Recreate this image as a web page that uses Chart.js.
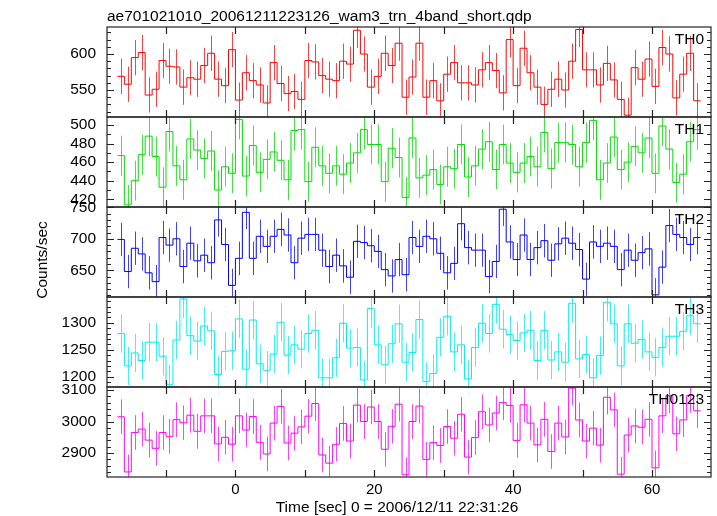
<!DOCTYPE html>
<html>
<head>
<meta charset="utf-8">
<script src="https://cdn.jsdelivr.net/npm/chart.js@4.4.1/dist/chart.umd.min.js"></script>
<style>
  html, body { margin: 0; padding: 0; background: #fff; }
</style>
</head>
<body>
<canvas id="lc" width="717" height="516"></canvas>
<script>
// light curve, 1 s bins, first bin starts at t = -17
const binStart = -17;
const binWidth = 1;

const bandNames = ['TH0', 'TH1', 'TH2', 'TH3', 'TH0123'];
const bandColors = ['#ff0000', '#00dd00', '#0000ff', '#00eeee', '#ff00ff'];

const th0Rates = [569,558,595,602,543,551,591,583,582,554,567,565,584,601,565,556,606,536,574,563,
  557,532,588,559,545,548,537,591,589,570,565,563,590,586,633,600,554,569,601,584,
  615,540,568,615,540,563,535,572,588,560,560,557,578,588,577,546,620,556,608,574,
  554,530,551,565,550,590,634,578,578,557,587,564,537,515,581,565,593,555,609,600,
  539,572,601,535];
const th1Rates = [467,414,440,468,488,466,433,493,456,441,485,473,464,472,430,455,448,506,445,478,
  449,463,471,462,441,494,495,439,476,456,448,456,447,459,470,495,479,479,439,475,
  465,422,486,443,446,452,436,455,453,479,444,456,474,482,452,479,459,449,459,466,
  455,492,453,481,481,479,455,481,505,441,459,487,452,460,477,470,486,448,499,474,
  438,447,482,495];
const th2Rates = [699,648,685,676,646,632,702,690,700,656,693,665,674,662,730,691,626,669,742,669,
  704,688,704,715,706,662,701,707,707,682,656,674,657,639,696,694,689,680,651,641,
  667,643,702,688,704,700,677,646,661,724,686,682,682,640,664,747,695,667,706,667,
  686,697,666,692,701,693,683,636,695,688,693,688,651,682,666,678,684,611,655,721,
  707,702,691,702];
const th3Rates = [1280,1220,1244,1230,1264,1264,1238,1186,1268,1344,1276,1266,1294,1285,1204,1247,1248,1307,1214,1305,
  1224,1212,1242,1301,1240,1259,1251,1280,1286,1198,1198,1235,1299,1253,1254,1194,1326,1259,1222,1261,
  1298,1227,1245,1306,1191,1206,1273,1312,1246,1259,1196,1254,1299,1280,1334,1288,1278,1267,1281,1286,
  1230,1286,1231,1246,1227,1336,1233,1241,1198,1239,1338,1298,1220,1298,1262,1269,1246,1236,1254,1275,
  1275,1284,1313,1298];
const th0123Rates = [3015,2840,2965,2976,2941,2915,2965,2953,3006,2996,3020,2969,3018,3018,2929,2950,2928,3018,2973,3016,
  2934,2897,2995,3048,2932,2963,2983,3017,3057,2894,2868,2928,2994,2938,3052,3000,3046,3000,2912,2985,
  3055,2831,3000,3049,2880,2933,2924,2984,2947,3023,2887,2949,3031,2989,3027,3060,3051,2940,3053,2995,
  2926,3007,2905,2995,2951,3106,3005,2938,2979,2925,3077,3037,2833,2957,2986,2982,3007,2853,3018,3082,
  2961,3005,3083,3034];

// typical 1-sigma error per band (counts/sec)
const bandErrors = [24.5, 21.5, 26.5, 35.5, 55];

const bandRates = [th0Rates, th1Rates, th2Rates, th3Rates, th0123Rates];

// axis ranges and ticks
const xMin = -18.5, xMax = 68.5;
const xTicks = [-10, 0, 10, 20, 30, 40, 50, 60];
const yMins = [512.5, 411.7, 607.6, 1181, 2824];
const yMaxs = [637.5, 508.6, 750.5, 1347.6, 3109.5];
const th0Ticks = [550, 600];
const th1Ticks = [420, 440, 460, 480, 500];
const th2Ticks = [650, 700, 750];
const th3Ticks = [1200, 1250, 1300];
const th0123Ticks = [2900, 3000, 3100];
const yTicks = [th0Ticks, th1Ticks, th2Ticks, th3Ticks, th0123Ticks];
const yMinorSteps = [10, 10, 10, 10, 20];

const titleText = 'ae701021010_20061211223126_wam3_trn_4band_short.qdp';
const xTitle = 'Time [sec] 0 = 2006/12/11 22:31:26';
const yTitle = 'Counts/sec';

const FONT = '"Liberation Sans", Arial, Helvetica, sans-serif';

// build step outlines (left edge of each bin + closing right edge)
const datasets = bandRates.map((rates, k) => {
  const pts = rates.map((v, i) => ({ x: binStart + i * binWidth, y: v }));
  pts.push({ x: binStart + rates.length * binWidth, y: rates[rates.length - 1] });
  return {
    label: bandNames[k],
    data: pts,
    yAxisID: 'y' + k,
    stepped: true,
    borderColor: bandColors[k],
    borderWidth: 1,
    pointRadius: 0,
    fill: false
  };
});

const scales = {
  x: {
    type: 'linear',
    position: 'bottom',
    min: xMin,
    max: xMax,
    afterBuildTicks: s => { s.ticks = xTicks.map(v => ({ value: v })); },
    afterFit: s => { s.height = 39; },
    grid: { display: false, drawTicks: false },
    border: { display: false },
    ticks: {
      color: '#000',
      font: { family: FONT, size: 15 },
      padding: 4,
      maxRotation: 0,
      autoSkip: false,
      callback: v => (v % 20 === 0 ? String(v) : '')
    }
  }
};
bandNames.forEach((name, k) => {
  scales['y' + k] = {
    type: 'linear',
    position: 'left',
    stack: 'bands',
    stackWeight: 1,
    weight: 10 - k,
    min: yMins[k],
    max: yMaxs[k],
    afterBuildTicks: s => { s.ticks = yTicks[k].map(v => ({ value: v })); },
    afterFit: s => { s.width = 107; },
    grid: { display: false, drawTicks: false },
    border: { display: false },
    ticks: {
      color: '#000',
      font: { family: FONT, size: 15.5 },
      padding: 11,
      autoSkip: false,
      callback: v => String(v)
    }
  };
});

// error bars, frames, tick marks and labels
const qdpDecor = {
  id: 'qdpDecor',
  beforeDraw(chart) {
    const ctx = chart.ctx;
    ctx.save();
    ctx.fillStyle = '#fff';
    ctx.fillRect(0, 0, chart.width, chart.height);
    ctx.restore();
  },
  beforeDatasetsDraw(chart) {
    const ctx = chart.ctx;
    const xs = chart.scales.x;
    const area = chart.chartArea;
    bandRates.forEach((rates, k) => {
      const ys = chart.scales['y' + k];
      ctx.save();
      ctx.beginPath();
      ctx.rect(area.left, ys.top, area.right - area.left, ys.bottom - ys.top);
      ctx.clip();
      ctx.strokeStyle = bandColors[k];
      ctx.globalAlpha = 0.75;
      ctx.lineWidth = 1;
      ctx.beginPath();
      rates.forEach((v, i) => {
        const px = Math.round(xs.getPixelForValue(binStart + (i + 0.5) * binWidth)) + 0.5;
        ctx.moveTo(px, ys.getPixelForValue(v - bandErrors[k]));
        ctx.lineTo(px, ys.getPixelForValue(v + bandErrors[k]));
      });
      ctx.stroke();
      ctx.restore();
    });
  },
  afterDatasetsDraw(chart) {
    const ctx = chart.ctx;
    const xs = chart.scales.x;
    const area = chart.chartArea;
    const L = area.left, R = area.right;
    ctx.save();
    ctx.strokeStyle = '#222';
    ctx.lineWidth = 1.2;
    bandNames.forEach((name, k) => {
      const ys = chart.scales['y' + k];
      const T = ys.top, B = ys.bottom;
      ctx.strokeRect(L, T, R - L, B - T);
      ctx.beginPath();
      xTicks.forEach(v => {
        const px = Math.round(xs.getPixelForValue(v)) + 0.5;
        ctx.moveTo(px, T); ctx.lineTo(px, T + 7);
        ctx.moveTo(px, B); ctx.lineTo(px, B - 7);
      });
      const step = yMinorSteps[k];
      for (let v = Math.ceil(yMins[k] / step) * step; v <= yMaxs[k]; v += step) {
        const major = yTicks[k].includes(v);
        const len = major ? 7 : 4;
        const py = Math.round(ys.getPixelForValue(v)) + 0.5;
        ctx.moveTo(L, py); ctx.lineTo(L + len, py);
        ctx.moveTo(R, py); ctx.lineTo(R - len, py);
      }
      ctx.stroke();

      ctx.fillStyle = '#000';
      ctx.font = '15.5px ' + FONT;
      ctx.textAlign = 'right';
      ctx.textBaseline = 'alphabetic';
      ctx.fillText(name, R - 7, T + 16.5);
    });

    ctx.fillStyle = '#000';
    ctx.font = '15.5px ' + FONT;
    ctx.textAlign = 'left';
    ctx.textBaseline = 'alphabetic';
    ctx.fillText(titleText, L, 21);

    ctx.textAlign = 'center';
    ctx.fillText(xTitle, (L + R) / 2 - 12, 512);

    ctx.translate(47, 260);
    ctx.rotate(-Math.PI / 2);
    ctx.fillText(yTitle, 0, 0);
    ctx.restore();
  }
};

new Chart(document.getElementById('lc'), {
  type: 'line',
  data: { datasets },
  options: {
    responsive: false,
    animation: false,
    events: [],
    layout: { padding: { left: 0, top: 27, right: 6, bottom: 0 } },
    plugins: { legend: { display: false }, title: { display: false }, tooltip: { enabled: false } },
    scales
  },
  plugins: [qdpDecor]
});
</script>
</body>
</html>
